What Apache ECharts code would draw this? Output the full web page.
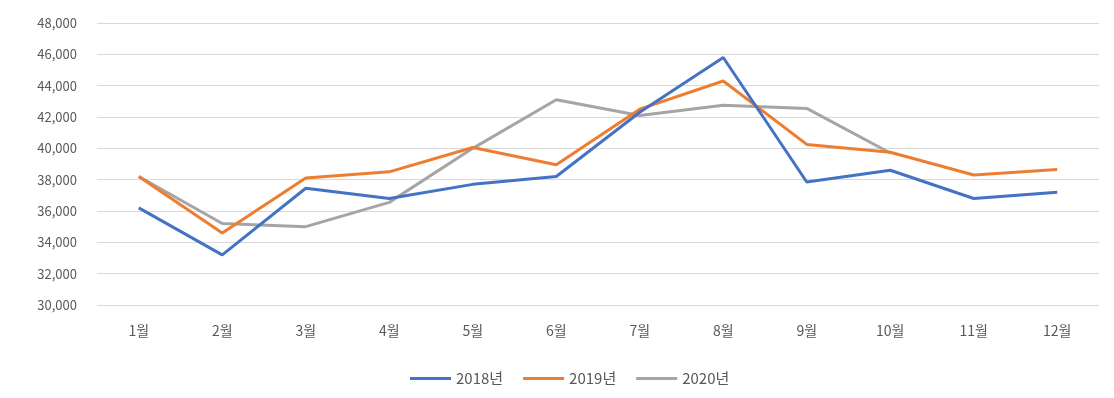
<!DOCTYPE html>
<html><head><meta charset="utf-8">
<script src="https://cdn.jsdelivr.net/npm/echarts@6/dist/echarts.min.js"></script>
<style>html,body{margin:0;padding:0;background:#fff}#c{width:1114px;height:398px}</style>
</head><body><div id="c"></div>
<script>
const categories = ['1월','2월','3월','4월','5월','6월','7월','8월','9월','10월','11월','12월'];
const s2018 = [36200, 33200, 37450, 36800, 37700, 38200, 42300, 45800, 37850, 38600, 36800, 37200];
const s2019 = [38200, 34600, 38100, 38500, 40050, 38950, 42500, 44300, 40250, 39750, 38300, 38650];
const s2020 = [38200, 35200, 35000, 36550, 40000, 43100, 42100, 42750, 42550, 39700, null, null];
const seriesNames = ['2018년','2019년','2020년'];
const colors = ['#4472C4','#ED7D31','#A5A5A5'];
const font = '"Noto Sans CJK KR", "Malgun Gothic", sans-serif';
const chart = echarts.init(document.getElementById('c'));
chart.setOption({
  animation:false,
  color: colors,
  grid:{left:97,right:15,top:23,bottom:93},
  legend:{top:366,left:405,itemWidth:41,itemHeight:3,itemGap:20,
    icon:'rect',
    textStyle:{color:'#595959',fontSize:15,fontFamily:font},
    data:seriesNames},
  xAxis:{type:'category',data:categories,boundaryGap:true,
    axisLine:{show:false},axisTick:{show:false},
    axisLabel:{color:'#595959',fontSize:14,fontFamily:font,margin:19}},
  yAxis:{type:'value',min:30000,max:48000,interval:2000,
    axisLine:{show:false},axisTick:{show:false},
    splitLine:{lineStyle:{color:'#d9d9d9',width:1}},
    axisLabel:{color:'#595959',fontSize:13,fontFamily:font,margin:20,
      formatter:v=>v.toLocaleString('en-US')}},
  series:[s2018,s2019,s2020].map((d,i)=>({
    name:seriesNames[i],type:'line',data:d,symbol:'none',
    lineStyle:{width:3,color:colors[i]},itemStyle:{color:colors[i]},z:3-i
  }))
});
</script></body></html>
